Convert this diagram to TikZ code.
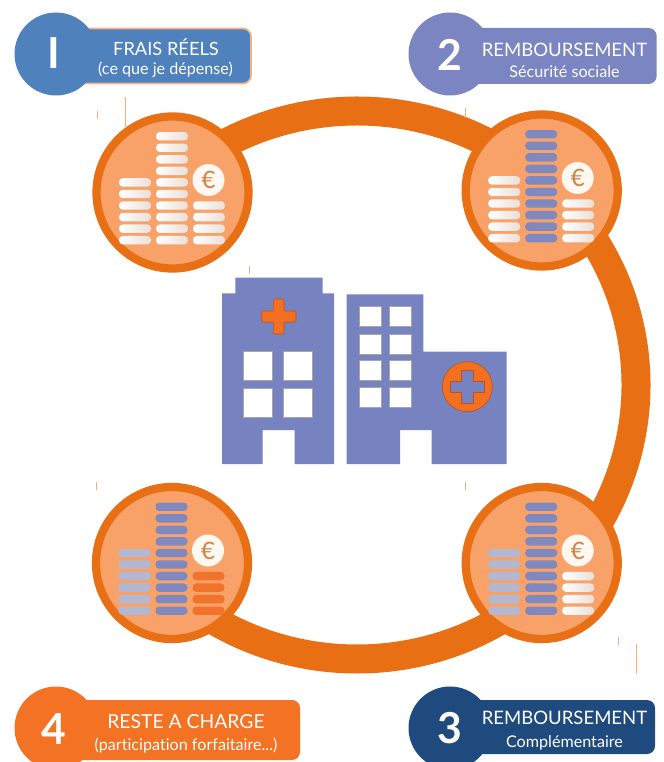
\documentclass[tikz,border=0pt]{standalone}
\usepackage{fontspec}
\setmainfont[Ligatures=NoCommon]{Lato}
\definecolor{ringor}{HTML}{E96F14}
\definecolor{discor}{HTML}{F8A26A}
\definecolor{badgea}{HTML}{4F81BD}
\definecolor{badgeb}{HTML}{7A85C1}
\definecolor{badgec}{HTML}{1F4A7E}
\definecolor{badged}{HTML}{F37224}
\definecolor{hosp}{HTML}{7683C0}
\definecolor{crossor}{HTML}{F36F21}
\definecolor{crossline}{HTML}{B9551C}
\definecolor{tickor}{HTML}{F6AE7C}
\definecolor{coinshade}{HTML}{E9DFD8}
\definecolor{coinbluec}{HTML}{7F89BF}
\definecolor{coinpalec}{HTML}{B3B8D2}
\definecolor{coinorc}{HTML}{F1732B}
\definecolor{eurobg}{HTML}{FFF8F0}
\definecolor{eurotext}{HTML}{CF8346}
\definecolor{barline}{HTML}{F7B083}
\tikzset{
  x=0.75pt,y=-0.75pt,
  lens/.style={circle,draw=ringor,fill=discor,line width=6.2pt,minimum size=114pt,inner sep=0pt,outer sep=0pt},
  coinwhite/.style={left color=white,right color=coinshade},
  coinblue/.style={fill=coinbluec},
  coinpale/.style={fill=coinpalec},
  coinorange/.style={fill=coinorc},
  euro/.style={circle,fill=eurobg,minimum size=24pt,inner sep=0pt,text=eurotext,font=\fontsize{18}{18}\selectfont},
  numtext/.style={inner sep=0pt,outer sep=0pt,text=white,font=\bfseries\fontsize{32}{32}\selectfont},
  labtwo/.style={text=white,inner sep=0pt,font=\fontsize{12.1}{12.1}\selectfont},
  barshape/.style={rounded corners=6pt},
  hospital/.style={fill=hosp},
  pane/.style={fill=white,draw=black!35,line width=0.4pt},
  marktick/.style={draw=tickor,line width=0.7pt}
}
\newcommand{\labone}[1]{\fontsize{#1}{#1}\selectfont}
\newcommand{\coinstack}[5]{%
  \foreach \i in {1,...,#4}{%
    \pgfmathsetmacro\yy{#2+47.7-(\i-1)*11.55}%
    \pgfmathsetmacro\xl{#1+#3}%
    \path[#5,rounded corners=2.8pt] (\xl,\yy-4.2) rectangle (\xl+32,\yy+4.2);
  }%
}
\newcommand{\lensgroup}[6]{%
  \node[lens] (#6) at (#1,#2) {};
  \coinstack{#1}{#2}{-53.5}{6}{#3}
  \coinstack{#1}{#2}{-16.5}{10}{#4}
  \coinstack{#1}{#2}{20.5}{4}{#5}
  \node[euro] (#6e) at (#1+36,#2-12.5) {€};
}
\begin{document}
\begin{tikzpicture}
\useasboundingbox (0,0) rectangle (663,762);
\begin{scope}
\clip (0,0) rectangle (663,762);
% ring
\draw[ringor,line width=21.75pt] (357,385) ++(-133:279 and 274) arc [start angle=-133,end angle=133,x radius=279,y radius=274];
% lenses
\lensgroup{172.5}{192.5}{coinwhite}{coinwhite}{coinwhite}{lensa}
\lensgroup{541.7}{190.5}{coinwhite}{coinblue}{coinwhite}{lensb}
\lensgroup{541.7}{563}{coinpale}{coinblue}{coinwhite}{lensc}
\lensgroup{172}{563}{coinpale}{coinblue}{coinorange}{lensd}
% left building
\path[hospital] (222,464) -- (222,293.3) -- (235.3,293.3) -- (235.3,277.7) -- (322.7,277.7) -- (322.7,293.3) -- (334,293.3) -- (334,464) -- (294.7,464) -- (294.7,430) -- (262.7,430) -- (262.7,464) -- cycle;
\path[pane] (243.3,351.7) rectangle (272.3,380);
\path[pane] (283.3,351.7) rectangle (312.7,380);
\path[pane] (243.3,388.3) rectangle (272.3,417.3);
\path[pane] (283.3,388.3) rectangle (312.7,417.3);
\path[fill=crossor,draw=crossline,line width=0.5pt,rounded corners=1pt] (273.4,299) -- (284,299) -- (284,311) -- (296,311) -- (296,322) -- (284,322) -- (284,334) -- (273.4,334) -- (273.4,322) -- (261.7,322) -- (261.7,311) -- (273.4,311) -- cycle;
% right building
\path[hospital] (346.7,464) -- (346.7,294.3) -- (423.3,294.3) -- (423.3,351.7) -- (506.7,351.7) -- (506.7,464) -- (431.7,464) -- (431.7,430) -- (400,430) -- (400,464) -- cycle;
\foreach \ya/\yb in {306.7/326.7,334/354,360/380.7,387.7/407.7}{
  \path[pane] (359,\ya) rectangle (381,\yb);
  \path[pane] (389.3,\ya) rectangle (411.3,\yb);
}
\node[circle,fill=crossor,draw=crossline,line width=0.5pt,minimum size=37.5pt,inner sep=0pt] (medal) at (467.3,386.7) {};
\path[fill=hosp,draw=crossline,line width=0.4pt] (461.5,370) -- (473,370) -- (473,381) -- (484.3,381) -- (484.3,392.5) -- (473,392.5) -- (473,403.5) -- (461.5,403.5) -- (461.5,392.5) -- (450.3,392.5) -- (450.3,381) -- (461.5,381) -- cycle;
% badge 1
\path[barshape,fill=badgea,draw=barline,line width=1.2pt] (56,28.5) rectangle (251,83.5);
\fill[badgea] (56,54) circle [radius=41.5];
\node[numtext] (numa) at (53.5,53) {I};
\node[text=white,inner sep=0pt,font=\labone{13.7}] (laba) at (166,47.5) {FRAIS RÉELS};
\node[labtwo] (labaa) at (165.5,70) {(ce que je dépense)};
% badge 2
\path[barshape,fill=badgeb] (450,28) rectangle (656.7,84);
\fill[badgeb] (450,54) circle [radius=41.5];
\node[numtext] (numb) at (450,54.5) {2};
\node[text=white,inner sep=0pt,font=\labone{13.9}] (labb) at (564.5,49.5) {REMBOURSEMENT};
\node[labtwo] (labbb) at (564.5,71.5) {Sécurité sociale};
% badge 3
\path[barshape,fill=badgec] (450,700) rectangle (655,754);
\fill[badgec] (450,728) circle [radius=41.5];
\node[numtext] (numc) at (449.5,728.5) {3};
\node[text=white,inner sep=0pt,font=\labone{13.9}] (labc) at (564.5,717.5) {REMBOURSEMENT};
\node[labtwo] (labcc) at (564.5,742.5) {Complémentaire};
% badge 4
\path[barshape,fill=badged] (56,700) rectangle (300,760);
\fill[badged] (56,728) circle [radius=41.5];
\node[numtext] (numd) at (53.5,729) {4};
\node[text=white,inner sep=0pt,font=\labone{14.5}] (labd) at (186,722) {RESTE A CHARGE};
\node[labtwo] (labdd) at (186,745.5) {(participation forfaitaire...)};
% small marks
\draw[marktick] (97,111) -- (97,119);
\draw[marktick] (125.7,97) -- (125.7,127);
\draw[marktick] (249.5,266) -- (249.5,274);
\draw[marktick] (465.3,108) -- (465.3,118);
\draw[marktick] (96.7,482) -- (96.7,490);
\draw[marktick] (465.3,482) -- (465.3,490);
\draw[marktick] (618.3,636.7) -- (618.3,645);
\draw[marktick] (636,644) -- (636,674);
\end{scope}
\end{tikzpicture}
\end{document}
